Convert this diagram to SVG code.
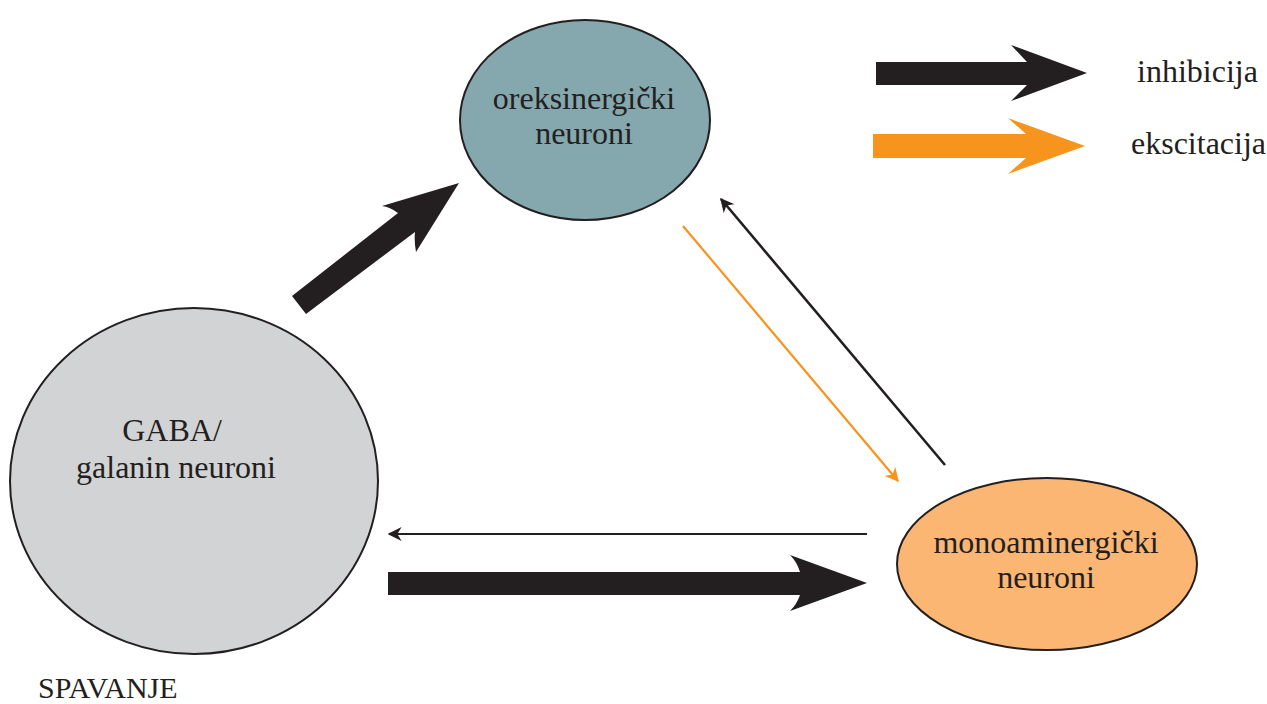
<svg xmlns="http://www.w3.org/2000/svg" width="1267" height="704" viewBox="0 0 1267 704">
<style>
text{font-family:"Liberation Serif","Times New Roman",serif;font-size:32px;fill:#231f20}
.c{text-anchor:middle}
.node{stroke:#231f20;stroke-width:2}
.thin{fill:none;stroke-width:2.2}
</style>
<defs>
<marker id="hb" viewBox="0 0 10 10" refX="9" refY="5" markerWidth="14" markerHeight="14" markerUnits="userSpaceOnUse" orient="auto">
<path d="M0,0 L10,5 L0,10 L3,5 Z" fill="#231f20"/>
</marker>
<marker id="ho" viewBox="0 0 10 10" refX="9" refY="5" markerWidth="14" markerHeight="14" markerUnits="userSpaceOnUse" orient="auto">
<path d="M0,0 L10,5 L0,10 L3,5 Z" fill="#f7941d"/>
</marker>
</defs>
<rect width="1267" height="704" fill="#fff"/>
<g id="connectors">
<path d="M292,296 L398,213 Q390,207 382,206 L459,183 L416,252 Q414,241 415,232 L306,314 Z" fill="#231f20"/>
<line class="thin" x1="945" y1="465" x2="721" y2="199" stroke="#231f20" style="stroke-width:2.6" marker-end="url(#hb)"/>
<line class="thin" x1="683" y1="226" x2="898" y2="481" stroke="#f7941d" marker-end="url(#ho)"/>
<line class="thin" x1="867" y1="534" x2="389" y2="534" stroke="#231f20" marker-end="url(#hb)"/>
<path d="M388,572 L800,572 Q797,562 790,555 L867,583 L790,611 Q797,604 800,595 L388,595 Z" fill="#231f20"/>
</g>
<g id="legend">
<path d="M876,62 L1027,62 L1011,45 L1087,73 L1011,101 L1027,85 L876,85 Z" fill="#231f20"/>
<text x="1137" y="82">inhibicija</text>
<path d="M873,134 L1026,134 L1008,118 L1085,146 L1008,174 L1026,158 L873,158 Z" fill="#f7941d"/>
<text x="1131" y="154">ekscitacija</text>
</g>
<g id="oreksin">
<ellipse class="node" cx="585" cy="120" rx="125" ry="100" fill="#85a8ae"/>
<text class="c" x="584" y="109">oreksinergički</text>
<text class="c" x="584" y="144">neuroni</text>
</g>
<g id="gaba">
<ellipse class="node" cx="194" cy="481" rx="184" ry="173" fill="#d1d3d4"/>
<text class="c" x="172" y="441">GABA/</text>
<text class="c" x="176" y="478">galanin neuroni</text>
</g>
<g id="monoamin">
<ellipse class="node" cx="1047" cy="564" rx="150" ry="86" fill="#fbb674"/>
<text class="c" x="1046" y="553">monoaminergički</text>
<text class="c" x="1046" y="588">neuroni</text>
</g>
<text x="38" y="698" style="font-size:30px">SPAVANJE</text>
</svg>
